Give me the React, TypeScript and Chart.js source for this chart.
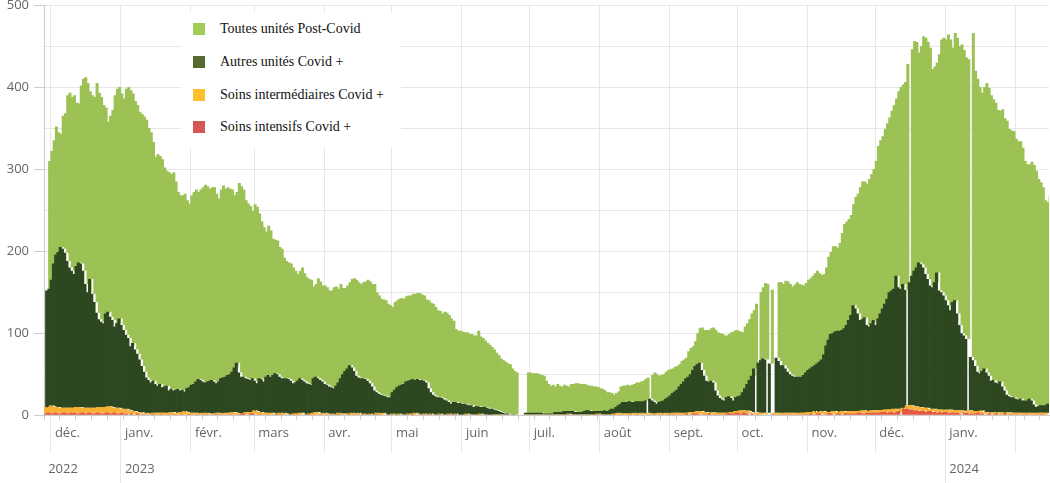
import React, { useEffect, useRef } from 'react';
import { Chart, registerables } from 'chart.js';

Chart.register(...registerables);

// ---------- data ----------
// Daily values from 28 Nov 2022 to 15 Feb 2024 (445 days). 0 = missing day.
const START_DATE = { year: 2022, month: 10, day: 28 };

const MONTH_LABELS = ['janv.', 'févr.', 'mars', 'avr.', 'mai', 'juin', 'juil.', 'août', 'sept.', 'oct.', 'nov.', 'déc.'];

const SERIES_LABELS = ['Toutes unités Post-Covid', 'Autres unités Covid +', 'Soins intermédiaires Covid +', 'Soins intensifs Covid +'];

// Height of the whole stacked bar (all units)
const totalHospitalises = [
  310, 322, 335, 352, 345, 343, 365, 368, 390, 393,
  388, 390, 381, 380, 402, 410, 412, 405, 395, 390,
  388, 405, 393, 388, 378, 375, 358, 365, 372, 390,
  398, 400, 392, 386, 398, 400, 396, 392, 383, 378,
  370, 367, 364, 360, 350, 345, 333, 315, 318, 316,
  312, 302, 298, 296, 294, 296, 285, 272, 268, 268,
  270, 262, 258, 268, 272, 275, 272, 275, 278, 281,
  279, 276, 278, 278, 270, 264, 275, 280, 276, 278,
  276, 275, 268, 272, 283, 279, 275, 262, 258, 255,
  249, 257, 254, 246, 236, 229, 224, 231, 225, 215,
  214, 213, 205, 203, 192, 188, 186, 185, 180, 176,
  172, 176, 180, 173, 168, 166, 165, 157, 160, 167,
  163, 158, 158, 156, 152, 152, 156, 157, 154, 160,
  155, 155, 158, 162, 166, 167, 165, 162, 160, 162,
  163, 165, 163, 160, 160, 150, 146, 142, 141, 140,
  136, 134, 132, 138, 140, 142, 143, 142, 145, 146,
  146, 148, 148, 149, 149, 147, 146, 141, 140, 137,
  136, 132, 128, 127, 124, 126, 125, 122, 118, 115,
  105, 103, 103, 102, 101, 101, 99, 99, 97, 97,
  103, 96, 94, 91, 88, 86, 83, 80, 76, 73,
  69, 67, 65, 63, 62, 57, 54, 52, 0, 0,
  0, 0, 52, 52, 51, 51, 51, 50, 49, 48,
  42, 38, 36, 37, 35, 38, 36, 35, 37, 36,
  35, 38, 38, 39, 39, 38, 38, 38, 37, 36,
  36, 35, 35, 34, 33, 32, 30, 28, 28, 27,
  25, 27, 29, 35, 36, 36, 37, 36, 37, 38,
  40, 40, 41, 42, 44, 46, 0, 49, 52, 50,
  48, 49, 50, 53, 55, 56, 57, 59, 60, 62,
  66, 68, 70, 78, 82, 84, 90, 100, 106, 107,
  104, 104, 104, 106, 107, 104, 101, 100, 99, 97,
  97, 99, 101, 102, 104, 103, 102, 101, 108, 112,
  117, 124, 128, 136, 0, 150, 156, 161, 160, 0,
  153, 0, 0, 162, 162, 160, 164, 163, 160, 157,
  159, 162, 160, 159, 158, 161, 165, 167, 170, 173,
  176, 173, 171, 172, 180, 193, 199, 206, 206, 204,
  210, 222, 233, 236, 239, 244, 257, 266, 270, 278,
  285, 285, 282, 288, 294, 300, 310, 328, 335, 340,
  349, 356, 363, 371, 378, 386, 395, 400, 403, 406,
  428, 0, 446, 456, 455, 442, 450, 462, 460, 455,
  448, 422, 425, 430, 440, 458, 460, 458, 464, 458,
  448, 466, 460, 450, 452, 445, 436, 434, 0, 466,
  420, 410, 400, 393, 400, 405, 399, 390, 385, 381,
  372, 371, 373, 362, 359, 349, 347, 346, 337, 334,
  334, 326, 310, 306, 306, 309, 305, 298, 288, 284,
  278, 262, 260, 268, 268,
];

// Height of the Covid + part (autres + intermédiaires + intensifs)
const covidPlusTotal = [
  152, 154, 165, 185, 196, 199, 205, 203, 198, 188,
  180, 176, 172, 182, 186, 185, 176, 160, 150, 166,
  148, 138, 125, 117, 114, 112, 124, 126, 120, 116,
  108, 112, 118, 110, 104, 98, 94, 84, 88, 80,
  75, 68, 60, 53, 46, 43, 40, 42, 38, 36,
  38, 34, 35, 36, 30, 32, 30, 31, 32, 30,
  31, 29, 33, 34, 37, 38, 41, 44, 43, 41,
  40, 41, 42, 43, 41, 39, 41, 45, 46, 47,
  49, 50, 53, 58, 64, 52, 47, 47, 45, 44,
  43, 45, 42, 39, 45, 44, 41, 47, 49, 47,
  49, 51, 50, 47, 45, 45, 45, 44, 42, 39,
  40, 42, 45, 43, 41, 39, 38, 37, 45, 47,
  45, 43, 41, 38, 37, 35, 34, 33, 36, 40,
  45, 50, 54, 57, 61, 58, 54, 48, 46, 45,
  45, 44, 42, 39, 35, 30, 28, 26, 25, 24,
  23, 22, 22, 28, 31, 34, 36, 37, 38, 41,
  42, 43, 44, 43, 44, 43, 43, 42, 40, 33,
  28, 25, 23, 22, 22, 21, 19, 18, 16, 14,
  16, 16, 15, 15, 14, 14, 13, 12, 12, 10,
  11, 11, 10, 10, 10, 9, 8, 8, 7, 6,
  5, 4, 3, 2, 2, 1, 1, 1, 0, 0,
  0, 0, 3, 3, 3, 3, 3, 3, 3, 3,
  2, 2, 2, 2, 2, 4, 4, 4, 4, 5,
  5, 5, 5, 5, 4, 4, 4, 4, 5, 6,
  6, 5, 5, 5, 5, 5, 5, 6, 5, 6,
  8, 8, 10, 12, 14, 16, 16, 16, 17, 16,
  16, 17, 17, 17, 17, 18, 0, 20, 18, 16,
  14, 16, 17, 18, 20, 22, 24, 27, 29, 31,
  35, 38, 41, 45, 47, 50, 55, 60, 62, 64,
  55, 48, 42, 41, 42, 40, 30, 24, 21, 19,
  18, 22, 23, 21, 18, 22, 23, 24, 28, 33,
  38, 43, 48, 57, 0, 64, 67, 69, 68, 0,
  63, 0, 0, 70, 66, 61, 61, 57, 53, 50,
  48, 47, 47, 47, 47, 49, 52, 55, 57, 59,
  61, 63, 65, 68, 74, 85, 92, 99, 100, 102,
  103, 103, 104, 106, 110, 116, 122, 134, 130, 124,
  116, 117, 119, 110, 108, 112, 116, 110, 118, 124,
  130, 136, 142, 150, 152, 154, 170, 156, 154, 160,
  153, 0, 162, 170, 176, 180, 186, 184, 180, 172,
  166, 158, 156, 162, 174, 152, 150, 146, 140, 134,
  128, 138, 140, 124, 110, 100, 97, 93, 0, 71,
  67, 60, 53, 51, 54, 57, 52, 48, 42, 43,
  40, 39, 41, 35, 30, 25, 23, 22, 22, 20,
  19, 20, 18, 18, 18, 20, 18, 13, 10, 11,
  12, 12, 12, 14, 14,
];

const soinsIntermediaires = [
  6, 7, 7, 9, 8, 8, 7, 6, 7, 7,
  6, 6, 7, 6, 7, 7, 8, 7, 6, 6,
  7, 6, 6, 7, 8, 7, 7, 8, 9, 8,
  7, 7, 6, 6, 6, 5, 5, 5, 4, 4,
  3, 3, 2, 2, 1, 2, 1, 1, 2, 2,
  2, 2, 3, 2, 2, 2, 3, 3, 2, 2,
  3, 3, 4, 3, 3, 2, 2, 2, 2, 1,
  2, 2, 2, 1, 1, 1, 2, 2, 2, 1,
  2, 2, 2, 3, 3, 2, 2, 1, 1, 2,
  2, 3, 3, 4, 3, 3, 3, 2, 2, 2,
  2, 2, 1, 1, 2, 2, 2, 1, 1, 1,
  1, 2, 2, 2, 2, 1, 1, 1, 2, 2,
  3, 3, 2, 2, 2, 2, 1, 1, 1, 1,
  2, 2, 1, 1, 1, 2, 2, 2, 2, 2,
  1, 1, 1, 1, 1, 1, 1, 2, 2, 2,
  2, 1, 1, 1, 1, 1, 1, 1, 1, 1,
  1, 1, 1, 2, 2, 1, 1, 1, 1, 1,
  1, 1, 1, 1, 1, 1, 1, 1, 1, 1,
  1, 1, 1, 0, 0, 1, 1, 1, 1, 1,
  1, 1, 1, 1, 1, 1, 0, 0, 1, 1,
  1, 1, 1, 1, 1, 0, 0, 0, 0, 0,
  0, 0, 1, 1, 1, 1, 1, 1, 1, 1,
  1, 1, 1, 1, 1, 1, 1, 1, 1, 1,
  1, 1, 1, 1, 1, 1, 1, 1, 1, 1,
  1, 1, 1, 1, 1, 1, 1, 1, 1, 1,
  1, 1, 2, 2, 2, 2, 2, 1, 2, 2,
  2, 2, 2, 2, 2, 2, 0, 2, 2, 2,
  2, 2, 2, 2, 2, 2, 2, 2, 2, 2,
  2, 2, 2, 2, 2, 2, 2, 3, 3, 3,
  3, 3, 3, 3, 2, 2, 2, 2, 2, 2,
  2, 2, 2, 2, 2, 2, 3, 3, 3, 3,
  3, 3, 2, 2, 0, 2, 2, 2, 2, 0,
  2, 0, 0, 2, 2, 2, 2, 2, 2, 2,
  2, 2, 2, 2, 2, 2, 2, 2, 3, 3,
  3, 3, 3, 3, 3, 3, 3, 3, 3, 3,
  3, 3, 3, 3, 3, 3, 3, 3, 3, 3,
  3, 3, 3, 3, 3, 3, 3, 3, 3, 3,
  3, 3, 3, 3, 3, 4, 4, 4, 4, 4,
  4, 0, 4, 4, 4, 4, 4, 4, 4, 4,
  4, 4, 3, 3, 3, 3, 3, 3, 3, 3,
  3, 3, 3, 3, 3, 3, 3, 3, 0, 3,
  3, 3, 3, 3, 3, 3, 2, 2, 2, 2,
  2, 2, 2, 2, 2, 2, 2, 2, 2, 2,
  2, 2, 2, 2, 2, 2, 2, 2, 2, 2,
  2, 2, 2, 2, 2,
];

const soinsIntensifs = [
  3, 3, 2, 3, 3, 2, 3, 3, 2, 2,
  3, 3, 2, 3, 3, 3, 2, 2, 3, 3,
  2, 3, 3, 2, 2, 3, 3, 2, 2, 3,
  3, 2, 3, 3, 2, 2, 3, 2, 2, 1,
  2, 1, 1, 2, 1, 1, 1, 0, 1, 1,
  1, 1, 0, 1, 1, 0, 1, 1, 0, 1,
  1, 0, 1, 1, 0, 1, 1, 1, 0, 1,
  1, 0, 1, 1, 1, 0, 1, 1, 0, 1,
  1, 1, 0, 1, 1, 1, 0, 1, 1, 2,
  2, 1, 1, 2, 2, 1, 1, 1, 1, 0,
  1, 1, 0, 1, 1, 0, 1, 1, 0, 0,
  1, 0, 0, 1, 1, 0, 0, 1, 0, 1,
  1, 1, 0, 0, 1, 0, 0, 1, 0, 0,
  1, 0, 1, 1, 0, 0, 1, 0, 0, 1,
  0, 1, 0, 0, 1, 0, 0, 1, 0, 0,
  1, 0, 0, 0, 1, 0, 0, 1, 0, 0,
  0, 1, 0, 0, 1, 1, 0, 0, 1, 0,
  0, 1, 0, 0, 0, 1, 0, 0, 0, 1,
  0, 0, 1, 0, 0, 0, 0, 1, 0, 0,
  0, 0, 0, 1, 0, 0, 0, 0, 0, 0,
  0, 0, 0, 0, 0, 0, 0, 0, 0, 0,
  0, 0, 0, 0, 0, 0, 0, 0, 0, 0,
  0, 0, 0, 0, 0, 0, 0, 0, 0, 0,
  0, 0, 1, 0, 0, 0, 0, 0, 0, 0,
  0, 0, 0, 0, 0, 1, 0, 0, 0, 0,
  0, 0, 0, 0, 1, 0, 0, 1, 0, 0,
  0, 1, 0, 0, 1, 0, 0, 1, 0, 0,
  0, 0, 1, 0, 0, 1, 0, 0, 1, 1,
  1, 1, 0, 1, 1, 1, 2, 1, 1, 2,
  2, 2, 1, 1, 1, 1, 2, 1, 1, 1,
  1, 1, 1, 1, 2, 2, 2, 2, 3, 3,
  2, 3, 3, 2, 0, 2, 1, 1, 1, 0,
  1, 0, 0, 1, 1, 1, 0, 1, 1, 1,
  1, 1, 1, 0, 1, 1, 1, 1, 1, 1,
  1, 2, 1, 1, 2, 2, 1, 1, 1, 2,
  2, 1, 1, 2, 2, 1, 2, 2, 2, 2,
  2, 2, 3, 3, 2, 2, 3, 3, 3, 3,
  3, 3, 4, 4, 4, 3, 4, 4, 3, 4,
  5, 0, 8, 8, 8, 7, 7, 6, 6, 5,
  5, 5, 4, 5, 5, 4, 4, 3, 4, 3,
  4, 4, 3, 3, 3, 3, 3, 2, 0, 3,
  3, 2, 2, 2, 2, 3, 2, 2, 1, 1,
  2, 1, 1, 2, 1, 1, 1, 2, 1, 1,
  1, 1, 1, 1, 0, 1, 1, 1, 0, 1,
  1, 1, 1, 1, 1,
];

const Y_MAX = 500;
const Y_STEP = 50;
const Y_LABEL_STEP = 100;

// ---------- styling ----------
const BAR_COLORS = ['#9CC154', '#2D4821', '#F8B133', '#E45A3F'];
const LEGEND_COLORS = ['#A2CC5A', '#56692F', '#FDBF2D', '#D45656'];
const GRID = '#e6e6e6';
const TICK = '#d0d0d0';
const AXIS = '#cccccc';
const TEXT = '#666666';
const NONE = 'rgba(0,0,0,0)';

const DAY_COUNT = totalHospitalises.length;
const dates: Date[] = Array.from({ length: DAY_COUNT }, (_, i) =>
  new Date(Date.UTC(START_DATE.year, START_DATE.month, START_DATE.day + i)));
const dayLabels = dates.map((d) => d.toISOString().slice(0, 10));

const isMonthStart = (i: number) => !!dates[i] && dates[i].getUTCDate() === 1;
const isYearStart = (i: number) => isMonthStart(i) && dates[i].getUTCMonth() === 0;
const isWeekStart = (i: number) => !!dates[i] && dates[i].getUTCDay() === 1;

export default function App() {
  const canvasRef = useRef<HTMLCanvasElement | null>(null);

  useEffect(() => {
    if (!canvasRef.current) return;
    Chart.defaults.font.family = "'Open Sans', 'DejaVu Sans', sans-serif";
    Chart.defaults.font.size = 13;
    Chart.defaults.color = TEXT;

    const present = (i: number) => totalHospitalises[i] > 0;
    const intensifs = soinsIntensifs.map((v, i) => (present(i) ? v : null));
    const interm = soinsIntermediaires.map((v, i) => (present(i) ? v : null));
    const autres = covidPlusTotal.map((v, i) =>
      present(i) ? Math.max(0, v - soinsIntermediaires[i] - soinsIntensifs[i]) : null);
    const post = totalHospitalises.map((v, i) =>
      present(i) ? Math.max(0, v - covidPlusTotal[i]) : null);

    const barStyle = { borderWidth: 0, barThickness: 3, inflateAmount: 0 };

    const chart = new Chart(canvasRef.current, {
      type: 'bar',
      data: {
        labels: dayLabels,
        datasets: [
          { label: SERIES_LABELS[3], data: intensifs, backgroundColor: BAR_COLORS[3], ...barStyle },
          { label: SERIES_LABELS[2], data: interm, backgroundColor: BAR_COLORS[2], ...barStyle },
          { label: SERIES_LABELS[1], data: autres, backgroundColor: BAR_COLORS[1], ...barStyle },
          { label: SERIES_LABELS[0], data: post, backgroundColor: BAR_COLORS[0], ...barStyle },
        ],
      },
      options: {
        animation: false,
        responsive: true,
        maintainAspectRatio: false,
        layout: { padding: { left: 0, right: 1, top: 0, bottom: 6 } },
        plugins: { legend: { display: false }, tooltip: { enabled: false } },
        scales: {
          xWeeks: {
            type: 'category',
            position: 'bottom',
            weight: 1,
            offset: true,
            grid: {
              offset: true,
              drawOnChartArea: false,
              tickLength: 5,
              color: (c: any) => (isWeekStart(c.index) || isMonthStart(c.index) ? TICK : NONE),
              tickColor: (c: any) => (isMonthStart(c.index) ? GRID : isWeekStart(c.index) ? TICK : NONE),
            },
            border: { display: true, color: AXIS },
            ticks: { display: false, autoSkip: false },
            afterFit: (s: any) => { s.height = 5; },
          },
          x: {
            type: 'category',
            position: 'bottom',
            weight: 2,
            stacked: true,
            offset: true,
            grid: {
              offset: true,
              drawOnChartArea: true,
              tickLength: 32,
              color: (c: any) => (isMonthStart(c.index) ? GRID : NONE),
              tickColor: (c: any) => (isMonthStart(c.index) ? GRID : NONE),
            },
            border: { display: false },
            ticks: {
              autoSkip: false,
              maxRotation: 0,
              minRotation: 0,
              align: 'start',
              labelOffset: 3,
              padding: -26.8,
              color: TEXT,
              font: { size: 13 },
              callback: (_v: any, i: number) =>
                isMonthStart(i) && i < DAY_COUNT - 16 ? MONTH_LABELS[dates[i].getUTCMonth()] : '',
            },
            afterFit: (s: any) => { s.height = 20.8; },
          },
          xYears: {
            type: 'category',
            position: 'bottom',
            weight: 3,
            offset: true,
            grid: {
              offset: true,
              drawOnChartArea: false,
              tickLength: 42,
              color: (c: any) => (isYearStart(c.index) ? GRID : NONE),
              tickColor: (c: any) => (isYearStart(c.index) ? GRID : NONE),
            },
            border: { display: false },
            ticks: {
              autoSkip: false,
              maxRotation: 0,
              minRotation: 0,
              align: 'start',
              labelOffset: 3,
              padding: -21.8,
              color: TEXT,
              font: { size: 13 },
              callback: (_v: any, i: number) =>
                i === 0 || isYearStart(i) ? String(dates[i].getUTCFullYear()) : '',
            },
            afterFit: (s: any) => { s.height = 36; },
          },
          y: {
            type: 'linear',
            position: 'left',
            stacked: true,
            min: 0,
            max: Y_MAX,
            afterFit: (s: any) => {
              s.width = 44;
              s.paddingTop = 5;
            },
            grid: {
              tickLength: 10,
              color: (c: any) => (c.tick && c.tick.value === 0 ? AXIS : GRID),
              tickColor: (c: any) => (c.tick && c.tick.value % Y_LABEL_STEP === 0 ? AXIS : NONE),
            },
            border: { display: true, color: AXIS },
            ticks: {
              stepSize: Y_STEP,
              padding: 5,
              color: TEXT,
              font: { size: 13 },
              callback: (v: any) => (Number(v) % Y_LABEL_STEP === 0 ? String(v) : ''),
            },
          },
        },
      } as any,
    });
    return () => chart.destroy();
  }, []);

  const rowCenters = [17, 50, 83, 115];
  const legendOrder = [0, 1, 2, 3];

  return (
    <div style={{ position: 'absolute', left: 0, top: 0, width: '1050px', height: '483px', background: '#fff' }}>
      <canvas ref={canvasRef} />
      <div
        style={{
          position: 'absolute',
          left: '181px',
          top: '12px',
          width: '220px',
          height: '136px',
          background: '#fff',
          fontFamily: "'Liberation Serif', 'Times New Roman', serif",
          fontSize: '14px',
          color: '#111',
        }}
      >
        {legendOrder.map((k, r) => (
          <div
            key={k}
            style={{
              position: 'absolute',
              left: '12px',
              top: `${rowCenters[r] - 10}px`,
              height: '20px',
              display: 'flex',
              alignItems: 'center',
              whiteSpace: 'nowrap',
            }}
          >
            <span style={{ display: 'inline-block', width: '12px', height: '12px', background: LEGEND_COLORS[k], marginRight: '15px' }} />
            <span>{SERIES_LABELS[k]}</span>
          </div>
        ))}
      </div>
    </div>
  );
}
